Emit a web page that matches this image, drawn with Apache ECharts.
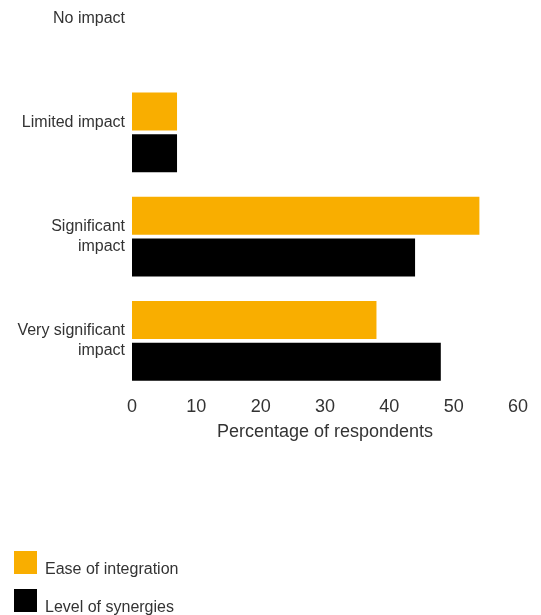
<!DOCTYPE html>
<html>
<head>
<meta charset="utf-8">
<script src="https://cdn.jsdelivr.net/npm/echarts@6/dist/echarts.min.js"></script>
<style>
  html, body { margin: 0; padding: 0; background: #fff; overflow: hidden; }
  /* the first band runs off the top edge, so the canvas starts above the page */
  #chart { width: 541px; height: 639px; margin-top: -24px; }
</style>
</head>
<body>
<div id="chart"></div>
<script>
// Impact categories, top to bottom
const categories = ['No impact', 'Limited impact', 'Significant\nimpact', 'Very significant\nimpact'];
// Share of respondents (%)
const easeOfIntegration = [0, 7, 54, 38];
const levelOfSynergies = [0, 7, 44, 48];
const xTicks = [0, 10, 20, 30, 40, 50, 60];

const FONT = '"Liberation Sans", Arial, sans-serif';
const TEXT = '#333333';

const chart = echarts.init(document.getElementById('chart'));
chart.setOption({
  animation: false,
  textStyle: { fontFamily: FONT },
  grid: { left: 132, right: 23, top: 0, bottom: 222 },
  xAxis: {
    type: 'value',
    min: xTicks[0],
    max: xTicks[xTicks.length - 1],
    interval: xTicks[1] - xTicks[0],
    axisLine: { show: false },
    axisTick: { show: false },
    splitLine: { show: false },
    axisLabel: { fontSize: 18, color: TEXT, margin: 5, fontFamily: FONT },
    name: 'Percentage of respondents',
    nameLocation: 'middle',
    nameGap: 30,
    nameTextStyle: { fontSize: 18, color: TEXT, fontFamily: FONT }
  },
  yAxis: {
    type: 'category',
    inverse: true,
    data: categories,
    axisLine: { show: false },
    axisTick: { show: false },
    splitLine: { show: false },
    axisLabel: {
      fontSize: 16,
      lineHeight: 20,
      color: TEXT,
      margin: 7,
      align: 'right',
      padding: [0, 0, 4, 0],
      fontFamily: FONT,
      // single-line names sit on the upper line of a two-line block
      formatter: v => (v.indexOf('\n') >= 0 ? v : v + '\n ')
    }
  },
  legend: {
    orient: 'vertical',
    left: 14,
    top: 575,
    height: 70,
    padding: 0,
    itemWidth: 23,
    itemHeight: 23,
    itemGap: 11,
    icon: 'rect',
    selectedMode: false,
    // legend names sit a little below the middle of their swatches
    formatter: name => '{t|' + name + '}',
    textStyle: {
      fontSize: 16,
      color: TEXT,
      fontFamily: FONT,
      rich: { t: { fontSize: 16, color: TEXT, fontFamily: FONT, padding: [15, 0, 0, 3] } }
    },
    data: ['Ease of integration', 'Level of synergies']
  },
  series: [
    {
      name: 'Ease of integration',
      type: 'bar',
      data: easeOfIntegration,
      barWidth: 38,
      barGap: '10%',
      itemStyle: { color: '#F9AE00' }
    },
    {
      name: 'Level of synergies',
      type: 'bar',
      data: levelOfSynergies,
      barWidth: 38,
      barGap: '10%',
      itemStyle: { color: '#000000' }
    }
  ]
});
</script>
</body>
</html>
